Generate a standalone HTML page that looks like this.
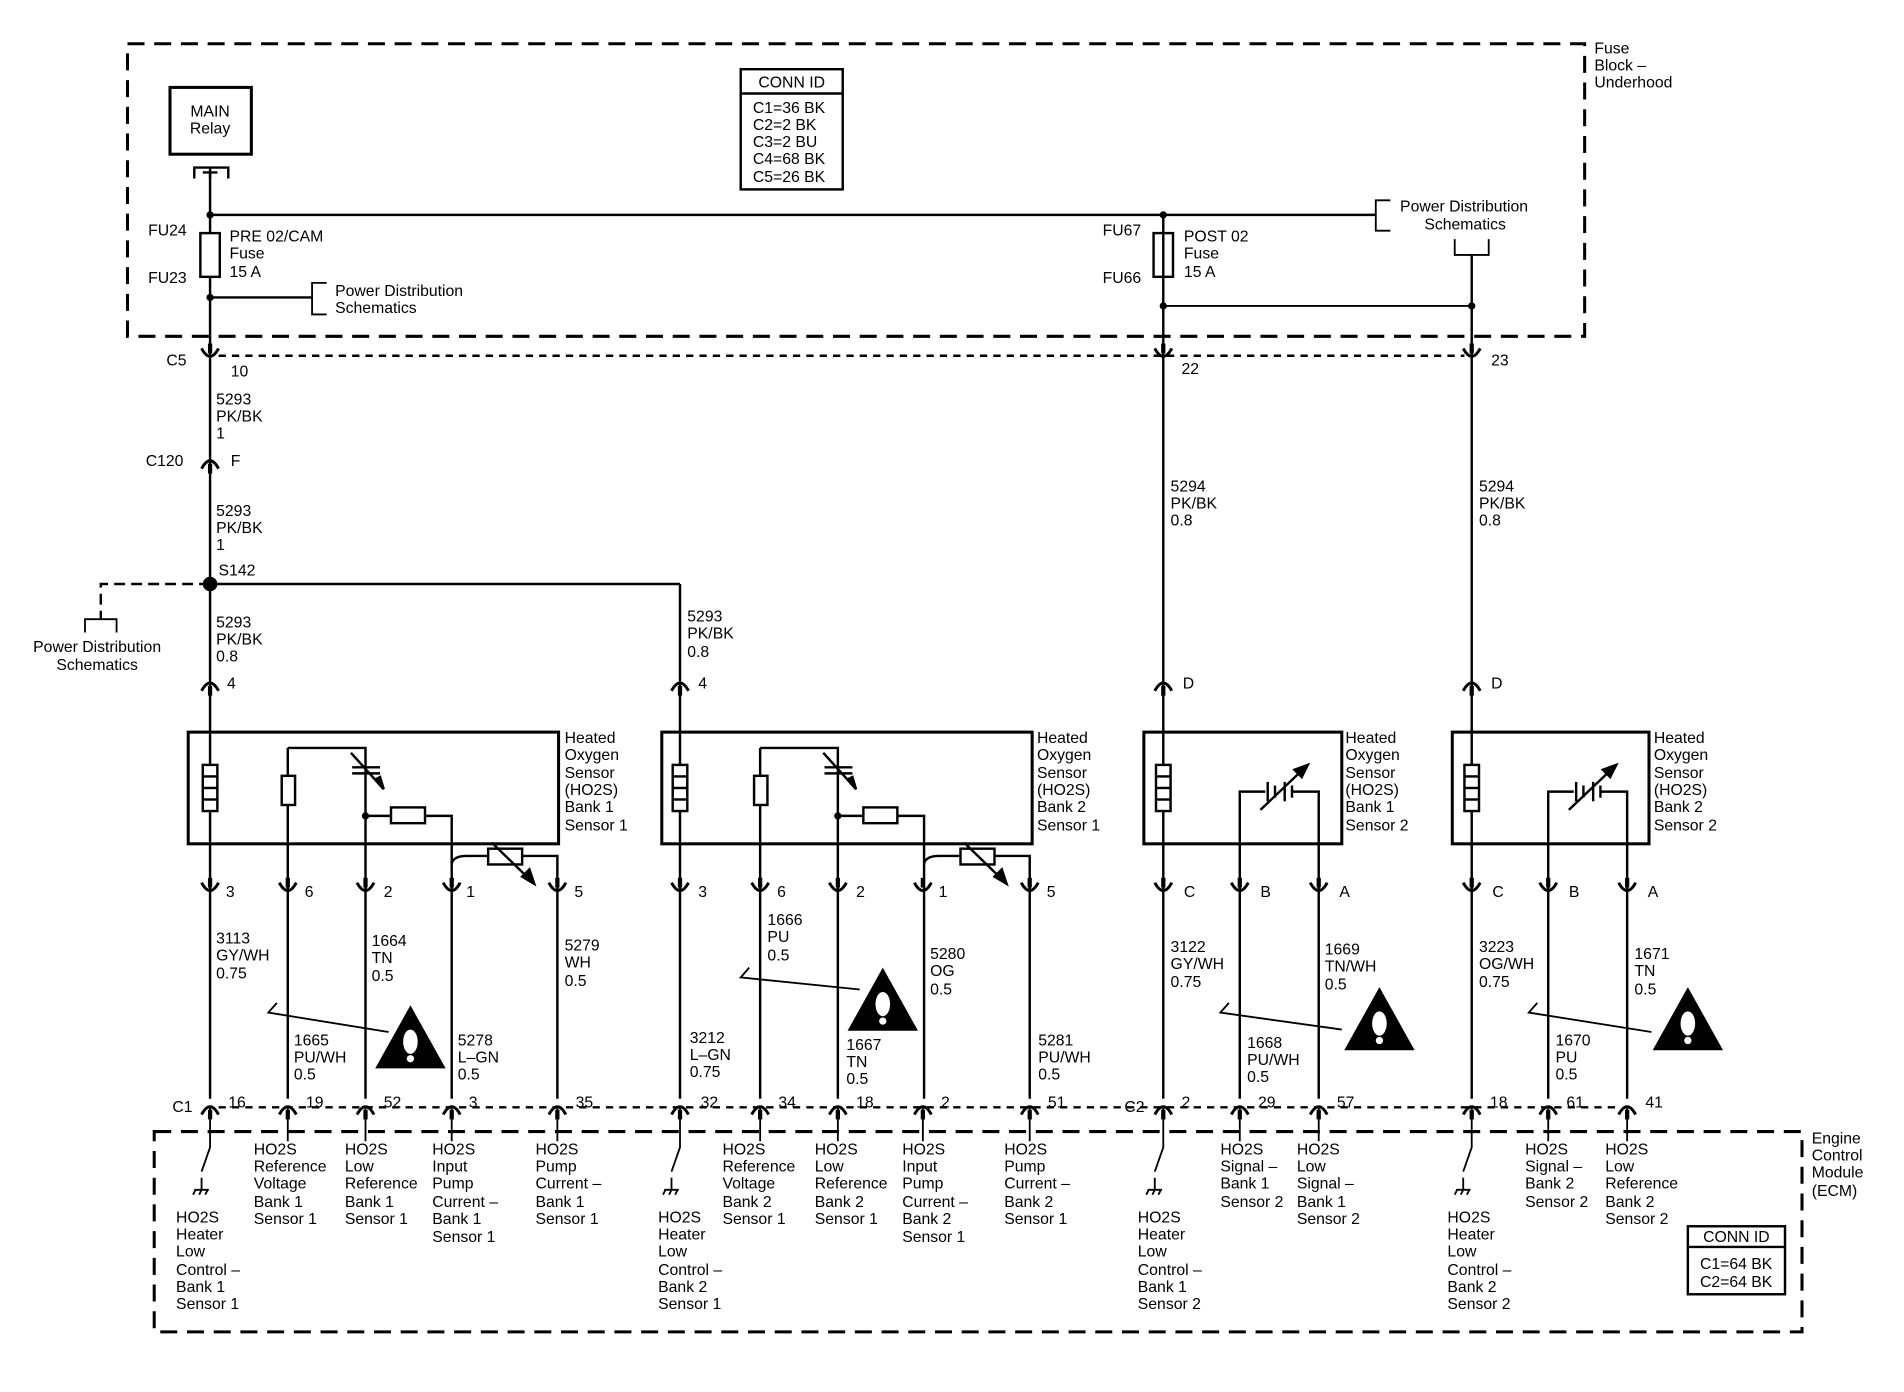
<!DOCTYPE html>
<html><head><meta charset="utf-8"><style>
html,body{margin:0;padding:0;background:#fff;}
svg{display:block}
text{font-family:"Liberation Sans",Arial,sans-serif;font-size:13px;fill:#000;}
</style></head><body>
<svg width="1904" height="1392" viewBox="0 0 1568 1146.5" preserveAspectRatio="none" xmlns="http://www.w3.org/2000/svg">
<defs>
<g id="cu"><path d="M-7,-6 Q0,7 7,-6" fill="none" stroke="#000" stroke-width="2.4"/><line x1="0" y1="-10" x2="0" y2="-2" stroke="#000" stroke-width="3.5"/></g>
<g id="cn"><path d="M-7,6 Q0,-7 7,6" fill="none" stroke="#000" stroke-width="2.4"/><line x1="0" y1="10" x2="0" y2="2" stroke="#000" stroke-width="3.5"/></g>
<g id="warn"><path d="M0,-27 L29,25 L-29,25 Z" fill="#000"/><ellipse cx="0" cy="3" rx="6" ry="10" fill="#fff"/><circle cx="0" cy="17" r="3" fill="#fff"/></g>
<g id="heat"><rect x="-6" y="0" width="12" height="38" fill="#fff" stroke="#000" stroke-width="2"/><line x1="-6" y1="9.5" x2="6" y2="9.5" stroke="#000" stroke-width="2"/><line x1="-6" y1="19" x2="6" y2="19" stroke="#000" stroke-width="2"/><line x1="-6" y1="28.5" x2="6" y2="28.5" stroke="#000" stroke-width="2"/></g>
</defs>
<g stroke="#000" fill="none">
<rect x="105" y="36" width="1200" height="241" stroke-width="2.5" stroke-dasharray="14,8"/>
<rect x="140" y="72" width="67" height="55" stroke-width="2.5"/>
<path d="M160,147 L160,138 L188,138 L188,147 M173,138 L173,147 M167,142 L179,142" stroke-width="2"/>
<line x1="173" y1="143" x2="173" y2="905" stroke-width="2"/>
<line x1="173" y1="177" x2="1133" y2="177" stroke-width="2"/>
<path d="M1145,165 L1133,165 L1133,190 L1145,190" stroke-width="1.5"/>
<rect x="165" y="192" width="16" height="36" fill="#fff" stroke-width="2"/>
<rect x="950" y="192" width="16" height="36" fill="#fff" stroke-width="2"/>
<line x1="173" y1="245" x2="257" y2="245" stroke-width="2"/>
<path d="M269,233 L257,233 L257,259 L269,259" stroke-width="1.5"/>
<rect x="610" y="57" width="84" height="99" stroke-width="2"/>
<line x1="610" y1="77" x2="694" y2="77" stroke-width="2"/>
<line x1="958" y1="177" x2="958" y2="905" stroke-width="2"/>
<path d="M1198,197 L1198,210 L1226,210 L1226,197" stroke-width="1.5"/>
<line x1="1212" y1="210" x2="1212" y2="905" stroke-width="2"/>
<line x1="958" y1="252" x2="1212" y2="252" stroke-width="1.5"/>
<line x1="180" y1="293" x2="1206" y2="293" stroke-width="2" stroke-dasharray="6,5"/>
<line x1="173" y1="481" x2="560" y2="481" stroke-width="2"/>
<line x1="560" y1="481" x2="560" y2="905" stroke-width="2"/>
<path d="M173,481 L83,481 L83,510" stroke-width="2" stroke-dasharray="9,5"/>
<path d="M70,521 L70,510 L96,510 L96,521" stroke-width="1.5"/>
<rect x="155" y="603" width="305" height="92" stroke-width="2.5"/>
<rect x="545" y="603" width="305" height="92" stroke-width="2.5"/>
<rect x="942" y="603" width="163" height="92" stroke-width="2.5"/>
<rect x="1196" y="603" width="162" height="92" stroke-width="2.5"/>
<g id="s1" stroke-width="2">
<line x1="237" y1="616" x2="237" y2="905"/>
<path d="M237,616 L301,616 L301,905"/>
<line x1="290" y1="632" x2="313" y2="632"/><line x1="290" y1="637" x2="313" y2="637"/>
<path d="M289,620 L316,650"/><path d="M316,650 L309,642 L313,640 Z" fill="#000"/>
<rect x="232" y="639" width="11" height="24" fill="#fff"/>
<path d="M301,672 L322,672 M350,672 L372,672 L372,905" />
<rect x="322" y="665" width="28" height="13" fill="#fff"/>
<path d="M372,711 Q374,705 384,705 L402,705 M430,705 L459,705 L459,905"/>
<rect x="402" y="699" width="28" height="13" fill="#fff"/>
<path d="M405,694 L440,728"/><path d="M440,728 L430,722 L436,716 Z" fill="#000"/>
<circle cx="301" cy="672" r="2" fill="#000"/>
</g>
<use href="#s1" transform="translate(389,0)"/>
<use href="#heat" x="173" y="630"/>
<use href="#heat" x="560" y="630"/>
<use href="#heat" x="958" y="630"/>
<use href="#heat" x="1212" y="630"/>
<g id="s3" stroke-width="2">
<path d="M1021,905 L1021,652 L1042,652 M1064,652 L1086,652 L1086,905"/>
<line x1="1044" y1="644" x2="1044" y2="660"/><line x1="1050" y1="647" x2="1050" y2="657"/>
<line x1="1058" y1="644" x2="1058" y2="660"/><line x1="1064" y1="647" x2="1064" y2="657"/>
<path d="M1038,667 L1077,630"/><path d="M1077,630 L1066,634 L1072,640 Z" fill="#000"/>
</g>
<use href="#s3" transform="translate(254,0)"/>
<line x1="180" y1="912" x2="1334" y2="912" stroke-width="2" stroke-dasharray="6,5"/>
<rect x="127" y="932" width="1357" height="165" stroke-width="2.5" stroke-dasharray="14,8"/>
<rect x="1390" y="1010" width="80" height="56" stroke-width="2"/>
<line x1="1390" y1="1027" x2="1470" y2="1027" stroke-width="2"/>
<g stroke-width="1.5">
<path d="M173,912 L173,945 L166,965"/>
<path d="M560,912 L560,945 L553,965"/>
<path d="M958,912 L958,945 L951,965"/>
<path d="M1212,912 L1212,945 L1205,965"/>
<path d="M237,912 V940 M301,912 V940 M372,912 V940 M459,912 V940 M626,912 V940 M690,912 V940 M760,912 V940 M848,912 V940 M1021,912 V940 M1086,912 V940 M1275,912 V940 M1340,912 V940"/>
</g>
<g stroke-width="1.5">
<path d="M166,970 V980 M160,980 H172 M161,980 L159,984 M166,980 L164,984 M171,980 L169,984"/>
<path d="M553,970 V980 M547,980 H559 M548,980 L546,984 M553,980 L551,984 M558,980 L556,984"/>
<path d="M951,970 V980 M945,980 H957 M946,980 L944,984 M951,980 L949,984 M956,980 L954,984"/>
<path d="M1205,970 V980 M1199,980 H1211 M1200,980 L1198,984 M1205,980 L1203,984 M1210,980 L1208,984"/>
</g>
<g stroke-width="1.5">
<path d="M228,826 L221,834 L320,850"/>
<path d="M617,797 L610,805 L708,815"/>
<path d="M1012,826 L1005,834 L1105,848"/>
<path d="M1266,826 L1259,834 L1360,850"/>
</g>
</g>
<g fill="#000">
<circle cx="173" cy="177" r="3"/><circle cx="958" cy="177" r="3"/><circle cx="173" cy="245" r="3"/>
<circle cx="958" cy="252" r="3"/><circle cx="1212" cy="252" r="3"/><circle cx="173" cy="481" r="6"/>
</g>
<use href="#cu" x="173" y="293"/><use href="#cu" x="958" y="293"/><use href="#cu" x="1212" y="293"/>
<use href="#cn" x="173" y="380"/>
<use href="#cn" x="173" y="563"/><use href="#cn" x="560" y="563"/><use href="#cn" x="958" y="563"/><use href="#cn" x="1212" y="563"/>
<use href="#cu" x="173" y="733"/><use href="#cu" x="237" y="733"/><use href="#cu" x="301" y="733"/><use href="#cu" x="372" y="733"/><use href="#cu" x="459" y="733"/>
<use href="#cu" x="560" y="733"/><use href="#cu" x="626" y="733"/><use href="#cu" x="690" y="733"/><use href="#cu" x="760" y="733"/><use href="#cu" x="848" y="733"/>
<use href="#cu" x="958" y="733"/><use href="#cu" x="1021" y="733"/><use href="#cu" x="1086" y="733"/>
<use href="#cu" x="1212" y="733"/><use href="#cu" x="1275" y="733"/><use href="#cu" x="1340" y="733"/>
<use href="#cn" x="173" y="912"/><use href="#cn" x="237" y="912"/><use href="#cn" x="301" y="912"/><use href="#cn" x="372" y="912"/><use href="#cn" x="459" y="912"/>
<use href="#cn" x="560" y="912"/><use href="#cn" x="626" y="912"/><use href="#cn" x="690" y="912"/><use href="#cn" x="760" y="912"/><use href="#cn" x="848" y="912"/>
<use href="#cn" x="958" y="912"/><use href="#cn" x="1021" y="912"/><use href="#cn" x="1086" y="912"/>
<use href="#cn" x="1212" y="912"/><use href="#cn" x="1275" y="912"/><use href="#cn" x="1340" y="912"/>
<use href="#warn" x="338" y="855"/><use href="#warn" x="727" y="824"/><use href="#warn" x="1136" y="840"/><use href="#warn" x="1390" y="840"/>
<text x="1313" y="44">Fuse</text><text x="1313" y="58">Block –</text><text x="1313" y="72">Underhood</text>
<text x="173" y="96" text-anchor="middle">MAIN</text><text x="173" y="110" text-anchor="middle">Relay</text>
<text x="652" y="72" text-anchor="middle">CONN ID</text>
<text x="620" y="93">C1=36 BK</text><text x="620" y="107">C2=2 BK</text><text x="620" y="121">C3=2 BU</text><text x="620" y="135">C4=68 BK</text><text x="620" y="150">C5=26 BK</text>
<text x="122" y="194">FU24</text><text x="122" y="233">FU23</text>
<text x="189" y="199">PRE 02/CAM</text><text x="189" y="213">Fuse</text><text x="189" y="228">15 A</text>
<text x="276" y="244">Power Distribution</text><text x="276" y="258">Schematics</text>
<text x="908" y="194">FU67</text><text x="908" y="233">FU66</text>
<text x="975" y="199">POST 02</text><text x="975" y="213">Fuse</text><text x="975" y="228">15 A</text>
<text x="1153" y="174">Power Distribution</text><text x="1173" y="189">Schematics</text>
<text x="137" y="301">C5</text><text x="190" y="310">10</text><text x="973" y="308">22</text><text x="1228" y="301">23</text>
<text x="178" y="333">5293</text><text x="178" y="347">PK/BK</text><text x="178" y="361">1</text>
<text x="120" y="384">C120</text><text x="190" y="384">F</text>
<text x="178" y="425">5293</text><text x="178" y="439">PK/BK</text><text x="178" y="453">1</text>
<text x="180" y="474">S142</text>
<text x="80" y="537" text-anchor="middle">Power Distribution</text><text x="80" y="552" text-anchor="middle">Schematics</text>
<text x="178" y="517">5293</text><text x="178" y="531">PK/BK</text><text x="178" y="545">0.8</text>
<text x="566" y="512">5293</text><text x="566" y="526">PK/BK</text><text x="566" y="541">0.8</text>
<text x="964" y="405">5294</text><text x="964" y="419">PK/BK</text><text x="964" y="433">0.8</text>
<text x="1218" y="405">5294</text><text x="1218" y="419">PK/BK</text><text x="1218" y="433">0.8</text>
<text x="187" y="567">4</text><text x="575" y="567">4</text><text x="974" y="567">D</text><text x="1228" y="567">D</text>
<text x="465" y="612">Heated</text><text x="465" y="626">Oxygen</text><text x="465" y="641">Sensor</text><text x="465" y="655">(HO2S)</text><text x="465" y="669">Bank 1</text><text x="465" y="684">Sensor 1</text>
<text x="854" y="612">Heated</text><text x="854" y="626">Oxygen</text><text x="854" y="641">Sensor</text><text x="854" y="655">(HO2S)</text><text x="854" y="669">Bank 2</text><text x="854" y="684">Sensor 1</text>
<text x="1108" y="612">Heated</text><text x="1108" y="626">Oxygen</text><text x="1108" y="641">Sensor</text><text x="1108" y="655">(HO2S)</text><text x="1108" y="669">Bank 1</text><text x="1108" y="684">Sensor 2</text>
<text x="1362" y="612">Heated</text><text x="1362" y="626">Oxygen</text><text x="1362" y="641">Sensor</text><text x="1362" y="655">(HO2S)</text><text x="1362" y="669">Bank 2</text><text x="1362" y="684">Sensor 2</text>
<text x="186" y="739">3</text><text x="251" y="739">6</text><text x="316" y="739">2</text><text x="384" y="739">1</text><text x="473" y="739">5</text>
<text x="575" y="739">3</text><text x="640" y="739">6</text><text x="705" y="739">2</text><text x="773" y="739">1</text><text x="862" y="739">5</text>
<text x="975" y="739">C</text><text x="1038" y="739">B</text><text x="1103" y="739">A</text>
<text x="1229" y="739">C</text><text x="1292" y="739">B</text><text x="1357" y="739">A</text>
<text x="178" y="777">3113</text><text x="178" y="791">GY/WH</text><text x="178" y="806">0.75</text>
<text x="242" y="861">1665</text><text x="242" y="875">PU/WH</text><text x="242" y="889">0.5</text>
<text x="306" y="779">1664</text><text x="306" y="793">TN</text><text x="306" y="808">0.5</text>
<text x="377" y="861">5278</text><text x="377" y="875">L–GN</text><text x="377" y="889">0.5</text>
<text x="465" y="783">5279</text><text x="465" y="797">WH</text><text x="465" y="812">0.5</text>
<text x="568" y="859">3212</text><text x="568" y="873">L–GN</text><text x="568" y="887">0.75</text>
<text x="632" y="762">1666</text><text x="632" y="776">PU</text><text x="632" y="791">0.5</text>
<text x="697" y="865">1667</text><text x="697" y="879">TN</text><text x="697" y="893">0.5</text>
<text x="766" y="790">5280</text><text x="766" y="804">OG</text><text x="766" y="819">0.5</text>
<text x="855" y="861">5281</text><text x="855" y="875">PU/WH</text><text x="855" y="889">0.5</text>
<text x="964" y="784">3122</text><text x="964" y="798">GY/WH</text><text x="964" y="813">0.75</text>
<text x="1027" y="863">1668</text><text x="1027" y="877">PU/WH</text><text x="1027" y="891">0.5</text>
<text x="1091" y="786">1669</text><text x="1091" y="800">TN/WH</text><text x="1091" y="815">0.5</text>
<text x="1218" y="784">3223</text><text x="1218" y="798">OG/WH</text><text x="1218" y="813">0.75</text>
<text x="1281" y="861">1670</text><text x="1281" y="875">PU</text><text x="1281" y="889">0.5</text>
<text x="1346" y="790">1671</text><text x="1346" y="804">TN</text><text x="1346" y="819">0.5</text>
<text x="142" y="916">C1</text><text x="188" y="912">16</text><text x="252" y="912">19</text><text x="316" y="912">52</text><text x="386" y="912">3</text><text x="474" y="912">35</text>
<text x="577" y="912">32</text><text x="641" y="912">34</text><text x="705" y="912">18</text><text x="775" y="912">2</text><text x="863" y="912">51</text>
<text x="926" y="916">C2</text><text x="973" y="912">2</text><text x="1036" y="912">29</text><text x="1101" y="912">57</text>
<text x="1227" y="912">18</text><text x="1290" y="912">61</text><text x="1355" y="912">41</text>
<text x="145" y="1007">HO2S</text><text x="145" y="1021">Heater</text><text x="145" y="1035">Low</text><text x="145" y="1050">Control –</text><text x="145" y="1064">Bank 1</text><text x="145" y="1078">Sensor 1</text>
<text x="209" y="951">HO2S</text><text x="209" y="965">Reference</text><text x="209" y="979">Voltage</text><text x="209" y="994">Bank 1</text><text x="209" y="1008">Sensor 1</text>
<text x="284" y="951">HO2S</text><text x="284" y="965">Low</text><text x="284" y="979">Reference</text><text x="284" y="994">Bank 1</text><text x="284" y="1008">Sensor 1</text>
<text x="356" y="951">HO2S</text><text x="356" y="965">Input</text><text x="356" y="979">Pump</text><text x="356" y="994">Current –</text><text x="356" y="1008">Bank 1</text><text x="356" y="1023">Sensor 1</text>
<text x="441" y="951">HO2S</text><text x="441" y="965">Pump</text><text x="441" y="979">Current –</text><text x="441" y="994">Bank 1</text><text x="441" y="1008">Sensor 1</text>
<text x="542" y="1007">HO2S</text><text x="542" y="1021">Heater</text><text x="542" y="1035">Low</text><text x="542" y="1050">Control –</text><text x="542" y="1064">Bank 2</text><text x="542" y="1078">Sensor 1</text>
<text x="595" y="951">HO2S</text><text x="595" y="965">Reference</text><text x="595" y="979">Voltage</text><text x="595" y="994">Bank 2</text><text x="595" y="1008">Sensor 1</text>
<text x="671" y="951">HO2S</text><text x="671" y="965">Low</text><text x="671" y="979">Reference</text><text x="671" y="994">Bank 2</text><text x="671" y="1008">Sensor 1</text>
<text x="743" y="951">HO2S</text><text x="743" y="965">Input</text><text x="743" y="979">Pump</text><text x="743" y="994">Current –</text><text x="743" y="1008">Bank 2</text><text x="743" y="1023">Sensor 1</text>
<text x="827" y="951">HO2S</text><text x="827" y="965">Pump</text><text x="827" y="979">Current –</text><text x="827" y="994">Bank 2</text><text x="827" y="1008">Sensor 1</text>
<text x="937" y="1007">HO2S</text><text x="937" y="1021">Heater</text><text x="937" y="1035">Low</text><text x="937" y="1050">Control –</text><text x="937" y="1064">Bank 1</text><text x="937" y="1078">Sensor 2</text>
<text x="1005" y="951">HO2S</text><text x="1005" y="965">Signal –</text><text x="1005" y="979">Bank 1</text><text x="1005" y="994">Sensor 2</text>
<text x="1068" y="951">HO2S</text><text x="1068" y="965">Low</text><text x="1068" y="979">Signal –</text><text x="1068" y="994">Bank 1</text><text x="1068" y="1008">Sensor 2</text>
<text x="1192" y="1007">HO2S</text><text x="1192" y="1021">Heater</text><text x="1192" y="1035">Low</text><text x="1192" y="1050">Control –</text><text x="1192" y="1064">Bank 2</text><text x="1192" y="1078">Sensor 2</text>
<text x="1256" y="951">HO2S</text><text x="1256" y="965">Signal –</text><text x="1256" y="979">Bank 2</text><text x="1256" y="994">Sensor 2</text>
<text x="1322" y="951">HO2S</text><text x="1322" y="965">Low</text><text x="1322" y="979">Reference</text><text x="1322" y="994">Bank 2</text><text x="1322" y="1008">Sensor 2</text>
<text x="1492" y="942">Engine</text><text x="1492" y="956">Control</text><text x="1492" y="970">Module</text><text x="1492" y="985">(ECM)</text>
<text x="1430" y="1023" text-anchor="middle">CONN ID</text><text x="1400" y="1045">C1=64 BK</text><text x="1400" y="1060">C2=64 BK</text>
</svg>
</body></html>
